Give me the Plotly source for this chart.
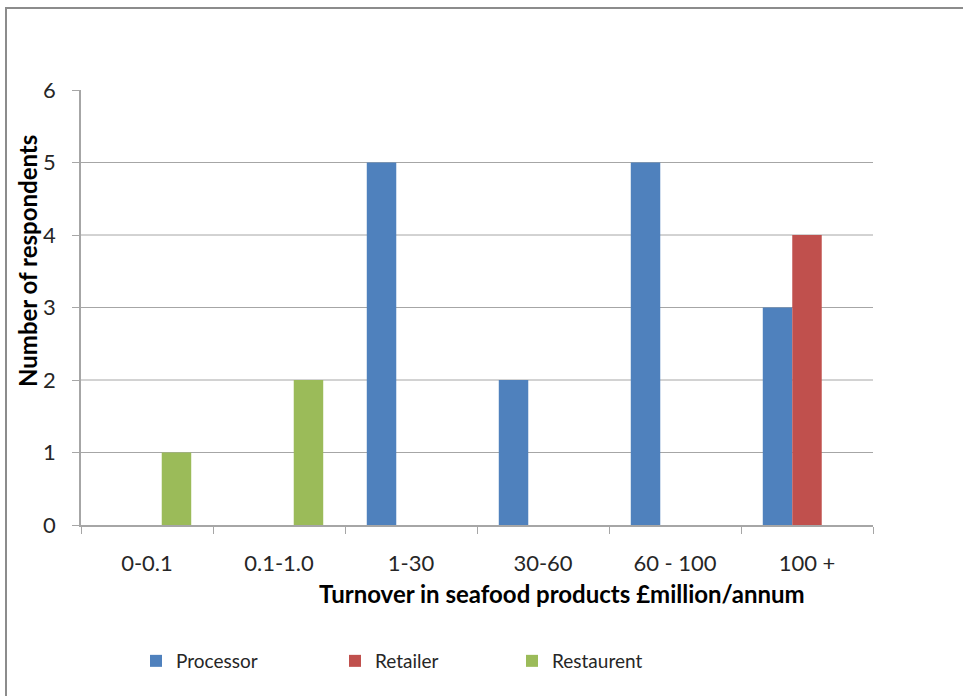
import plotly.graph_objects as go

# Turnover bands and respondent counts per business type
categories = ["0-0.1", "0.1-1.0", "1-30", "30-60", "60 - 100", "100 +"]
processor = [0, 0, 5, 2, 5, 3]
retailer = [0, 0, 0, 0, 0, 4]
restaurent = [1, 2, 0, 0, 0, 0]
y_ticks = [0, 1, 2, 3, 4, 5, 6]

FONT = "Lato, 'Open Sans', sans-serif"
TXT = "#262626"
GRID = "#a6a6a6"
FS = 22
TITLE_FS = 24
LEG_FS = 19

L, R, T, B = 81, 90, 90, 171
W, H = 963, 696
pw, ph = W - L - R, H - T - B

def px_x(p):
    return (p - L) / pw

def px_y(p):
    return (H - B - p) / ph

series = [
    ("Processor", processor, "#4f81bd", "legend", 136),
    ("Retailer", retailer, "#c0504d", "legend2", 335),
    ("Restaurent", restaurent, "#9bbb59", "legend3", 512),
]

fig = go.Figure()
legends = {}
for name, vals, col, leg, lx in series:
    fig.add_trace(go.Bar(x=categories, y=vals, name=name, marker_color=col,
                         marker_line_width=0, legend=leg))
    legends[leg] = dict(orientation="h", x=px_x(lx), xanchor="left",
                        y=px_y(661), yanchor="middle", itemwidth=30,
                        font=dict(size=LEG_FS, color=TXT, family=FONT),
                        bgcolor="rgba(0,0,0,0)", borderwidth=0)

# horizontal gridlines (none at the top of the axis)
shapes = [dict(type="line", xref="paper", yref="y", x0=0, x1=1, y0=v, y1=v,
               line=dict(color=GRID, width=1), layer="below")
          for v in y_ticks[1:-1]]
# outer chart frame
shapes.append(dict(type="rect", xref="paper", yref="paper",
                   x0=px_x(6), x1=px_x(975), y0=px_y(708), y1=px_y(8),
                   line=dict(color="#8c8c8c", width=2), fillcolor="rgba(0,0,0,0)"))

fig.update_layout(
    width=W, height=H,
    margin=dict(l=L, r=R, t=T, b=B, autoexpand=False),
    paper_bgcolor="white", plot_bgcolor="white",
    barmode="group", bargap=0.33, bargroupgap=0,
    font=dict(family=FONT, color=TXT, size=FS),
    shapes=shapes,
    showlegend=True,
    annotations=[
        dict(text="<b>Number of respondents</b>", textangle=-90,
             xref="paper", yref="paper", x=px_x(27), y=px_y(261),
             xanchor="center", yanchor="middle",
             showarrow=False, font=dict(size=TITLE_FS, color="black")),
        dict(text="<b>Turnover in seafood products £million/annum</b>",
             xref="paper", yref="paper", x=px_x(562), y=px_y(593),
             xanchor="center", yanchor="middle",
             showarrow=False, font=dict(size=TITLE_FS, color="black")),
    ],
    **legends,
)

fig.update_xaxes(showline=True, linecolor=GRID, linewidth=1.5,
                 ticks="outside", tickson="boundaries", ticklen=7,
                 tickcolor=GRID, showgrid=False,
                 tickfont=dict(size=FS, color=TXT), ticklabelstandoff=18)
fig.update_yaxes(range=[0, 6], tickvals=y_ticks, showgrid=False,
                 showline=True, linecolor=GRID, linewidth=1.5,
                 ticks="outside", ticklen=7, tickcolor=GRID,
                 zeroline=False, tickfont=dict(size=FS, color=TXT),
                 ticklabelstandoff=12)

fig.write_html("out.html")
